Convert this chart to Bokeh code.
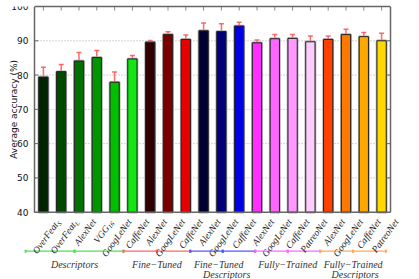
import math
import numpy as np
from bokeh.plotting import figure
from bokeh.models import (Range1d, LinearAxis, FixedTicker, Whisker, TeeHead,
                          ColumnDataSource, Label)
from bokeh.embed import file_html
from bokeh.resources import INLINE

# ---------------- data ----------------
names = ["OverFeat", "OverFeat", "AlexNet", "VGG", "GoogLeNet", "CaffeNet",
         "AlexNet", "GoogLeNet", "CaffeNet",
         "AlexNet", "GoogLeNet", "CaffeNet",
         "AlexNet", "GoogLeNet", "CaffeNet", "PatreoNet",
         "AlexNet", "GoogLeNet", "CaffeNet", "PatreoNet"]
subscripts = ["S", "L", "", "16", "", "", "", "", "", "", "", "", "", "", "", "", "", "", "", ""]
accuracy = [79.4, 81.0, 84.1, 85.1, 77.9, 84.7,
            89.6, 91.8, 90.4,
            92.9, 92.7, 94.3,
            89.4, 90.6, 90.7, 89.7,
            90.4, 91.8, 91.2, 90.0]
errors = [2.9, 2.1, 2.5, 2.1, 3.0, 1.0,
          0.5, 0.8, 1.3,
          2.3, 2.3, 1.1,
          0.8, 1.2, 1.1, 1.7,
          1.0, 1.6, 1.2, 2.2]
colors = ["#002400", "#004a00", "#007000", "#009600", "#00be00", "#11e811",
          "#300000", "#780000", "#e80000",
          "#000030", "#000078", "#0000e6",
          "#ff30ff", "#ff66ff", "#ff99ff", "#ffccff",
          "#ff4000", "#ff7800", "#ffa800", "#ffd800"]
groups = [["Descriptors"], ["Fine\u2212Tuned"], ["Fine\u2212Tuned", "Descriptors"],
          ["Fully\u2212Trained"], ["Fully\u2212Trained", "Descriptors"]]
group_colors = ["#55dd55", "#ff6666", "#5555ff", "#ff66ff", "#ffaa55"]
y_ticks = [40, 50, 60, 70, 80, 90, 100]
y_title = "Average accuracy (%)"
y_min, y_max = 40, 100

# ---------------- layout ----------------
W, H = 411, 279
BL, BR, BT = 34, 21, 6          # axes box position inside the canvas
axes_h = 205.7                  # height of the axes box (px)
frame_h = H - BT                # frame runs to the bottom of the canvas
n = len(accuracy)
px_per_x = (W - BL - BR) / n
px_per_unit = axes_h / (y_max - y_min)
x_lo = -BL / px_per_x           # frame spans the whole canvas width
x_hi = n + BR / px_per_x
y_lo = y_min - (frame_h - axes_h) / px_per_unit
group_edges = [-0.5, 5.0, 8.75, 12.4, 16.05, 19.75]
line_shift = [[0], [0], [-4, 4], [0], [0, 2]]
axis_col = "#666666"

xs = np.arange(n) + 0.5
acc = np.array(accuracy)
err = np.array(errors)

src = ColumnDataSource(dict(x=xs, top=acc, color=colors,
                            upper=acc + err, lower=acc - err))

p = figure(width=W, height=H, output_backend="svg", toolbar_location=None,
           x_range=Range1d(x_lo, x_hi), y_range=Range1d(y_lo, y_max),
           min_border_left=0, min_border_right=0, min_border_top=BT,
           min_border_bottom=0, background_fill_color="white",
           border_fill_color="white")
p.outline_line_color = None
p.xaxis.visible = False
p.xgrid.visible = False
p.ygrid.visible = False

# dotted grid inside the axes box
grid_y = y_ticks[1:-1]
p.segment(x0=[0] * len(grid_y), x1=[n] * len(grid_y), y0=grid_y, y1=grid_y,
          line_color="#aaaaaa", line_dash="1 2", line_width=1)

# bars: gray halo then outlined bar
p.vbar(x="x", top="top", bottom=y_min, width=0.52, source=src,
       fill_color="color", line_color="#a8a8a8", line_width=2.5)
p.vbar(x="x", top="top", bottom=y_min, width=0.52, source=src,
       fill_color="color", line_color="#222222", line_width=1)

# error bars
eb_color = "#ff5050"
p.add_layout(Whisker(base="x", upper="upper", lower="lower", source=src,
                     dimension="height", line_color=eb_color, line_width=1.5,
                     line_alpha=0.85,
                     upper_head=TeeHead(size=5, line_color=eb_color, line_width=1.5, line_alpha=0.85),
                     lower_head=TeeHead(size=5, line_color=eb_color, line_width=1.5, line_alpha=0.85)))

# left axis, drawn at x = 0 inside the frame
ya = p.yaxis[0]
ya.fixed_location = 0
ya.ticker = FixedTicker(ticks=y_ticks)
ya.bounds = (y_min, y_max)
ya.major_label_text_font = "DejaVu Sans"
ya.major_label_text_font_size = "9px"
ya.major_label_text_color = "#111111"
ya.major_label_standoff = 2
ya.major_tick_in = 0
ya.major_tick_out = 4
ya.minor_tick_line_color = None
ya.axis_line_color = axis_col
ya.axis_line_width = 1.5
ya.major_tick_line_color = None

# y title
p.add_layout(Label(x=0, y=(y_min + y_max) / 2, x_offset=-21, text=y_title,
                   angle=90, angle_units="deg", text_align="center",
                   text_baseline="middle", text_font="DejaVu Sans",
                   text_font_size="9px", text_color="#111111"))

# top, right and bottom lines of the box
ta = LinearAxis(ticker=FixedTicker(ticks=[]), bounds=(0, n), axis_line_color=axis_col,
                axis_line_width=1.5, minor_tick_line_color=None)
p.add_layout(ta, "above")
p.segment(x0=[0], x1=[n], y0=[y_min], y1=[y_min], line_color=axis_col, line_width=1.5)
p.segment(x0=[n], x1=[n], y0=[y_min], y1=[y_max], line_color=axis_col, line_width=1.5)

# inward ticks on left, right and top
tick_len = 4
p.segment(x0=[0] * len(grid_y), x1=[tick_len / px_per_x] * len(grid_y),
          y0=grid_y, y1=grid_y, line_color=axis_col, line_width=1)
p.segment(x0=[n - tick_len / px_per_x] * len(grid_y), x1=[n] * len(grid_y),
          y0=grid_y, y1=grid_y, line_color=axis_col, line_width=1)
p.segment(x0=xs, x1=xs, y0=[y_max] * n, y1=[y_max - tick_len / px_per_unit] * n,
          line_color="#888888", line_width=1)

# rotated category labels
ang = 54.0
th = math.radians(ang)
tip_dx, tip_dy = 15, -8
for xi, name, sub in zip(xs, names, subscripts):
    sub_w = 3.8 * len(sub)
    mx = tip_dx - sub_w * math.cos(th)
    my = tip_dy - sub_w * math.sin(th)
    p.add_layout(Label(x=xi, y=y_min, x_offset=mx, y_offset=my, text=name,
                       angle=ang, angle_units="deg", text_align="right",
                       text_baseline="middle", text_font="Liberation Serif",
                       text_font_style="italic", text_font_size="9.5px",
                       text_color="#222222"))
    if sub:
        drop = 2.5
        p.add_layout(Label(x=xi, y=y_min, x_offset=mx + drop * math.sin(th),
                           y_offset=my - drop * math.cos(th), text=sub,
                           angle=ang, angle_units="deg", text_align="left",
                           text_baseline="middle", text_font="Liberation Serif",
                           text_font_style="italic", text_font_size="6.5px",
                           text_color="#222222"))

# group brackets
base_y = y_min - 39.0 / px_per_unit
for gi, (lines, gc) in enumerate(zip(groups, group_colors)):
    x0, x1 = group_edges[gi], group_edges[gi + 1]
    xm = (x0 + x1) / 2
    gsrc = ColumnDataSource(dict(base=[base_y, base_y], lower=[x0, xm], upper=[x1, xm]))
    p.add_layout(Whisker(base="base", lower="lower", upper="upper", source=gsrc,
                         dimension="width", line_color=gc, line_width=1.2,
                         upper_head=TeeHead(size=3, line_color=gc, line_width=2),
                         lower_head=TeeHead(size=3, line_color=gc, line_width=2)))
    for li, txt in enumerate(lines):
        p.add_layout(Label(x=xm, y=y_min, x_offset=line_shift[gi][li],
                           y_offset=-52.5 - 9.5 * li, text=txt,
                           text_align="center", text_baseline="middle",
                           text_font="Liberation Serif", text_font_style="italic",
                           text_font_size="10px", text_color="#333333"))

open("out.html", "w").write(file_html(p, INLINE))
